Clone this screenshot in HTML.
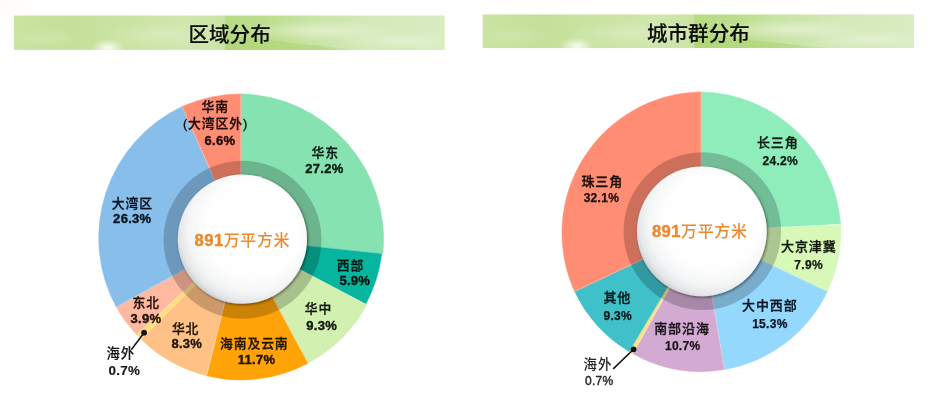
<!DOCTYPE html>
<html lang="zh-CN">
<head>
<meta charset="utf-8">
<title>区域分布 / 城市群分布</title>
<style>
html,body{margin:0;padding:0;background:#fff;}
body{width:930px;height:419px;overflow:hidden;position:relative;font-family:"Liberation Sans","Noto Sans CJK SC",sans-serif;}
svg{position:absolute;left:0;top:0;display:block;}
.tint{position:absolute;left:0;top:0;width:40px;height:20px;background:radial-gradient(ellipse 40px 20px at 0 0,#fffbf6,rgba(255,253,250,0) 100%);}
text{font-family:"Liberation Sans","Noto Sans CJK SC",sans-serif;text-anchor:middle;fill:#161616;}
.ttl{font-size:20.5px;font-weight:500;fill:#0d0d0d;stroke:#0d0d0d;stroke-width:0.15px;letter-spacing:0.1px;}
.c{font-size:12.8px;font-weight:500;letter-spacing:0.9px;stroke:#161616;stroke-width:0.3px;}
.n{font-size:13px;font-weight:700;letter-spacing:0.3px;stroke:#161616;stroke-width:0.38px;}
.c2{font-size:13px;font-weight:500;letter-spacing:0.9px;stroke:#161616;stroke-width:0.3px;}
.n2{font-size:12px;font-weight:700;letter-spacing:0.3px;fill:#1c1c1c;stroke:#1c1c1c;stroke-width:0.25px;}
.ctr{font-size:16px;font-weight:500;fill:#ED882D;letter-spacing:0.6px;}
.ctr .d{font-size:16.6px;font-weight:700;letter-spacing:0.5px;stroke:#ED882D;stroke-width:0.4px;}
</style>
</head>
<body>
<div class="tint"></div>
<svg width="930" height="419" viewBox="0 0 930 419">
<defs>
<linearGradient id="bg" x1="0" y1="0" x2="1" y2="0">
<stop offset="0" stop-color="#c9e3a0"/><stop offset="0.14" stop-color="#c6e09b"/><stop offset="0.26" stop-color="#cae3a2"/><stop offset="0.40" stop-color="#d0e6ad"/><stop offset="0.487" stop-color="#cbe4a5"/><stop offset="0.493" stop-color="#b8db85"/><stop offset="0.58" stop-color="#bddd8d"/><stop offset="0.68" stop-color="#c8e3a2"/><stop offset="0.80" stop-color="#d3e8b7"/><stop offset="1" stop-color="#d9ecc2"/>
</linearGradient>
<radialGradient id="sp1"><stop offset="0" stop-color="#fafdf4" stop-opacity="0.95"/><stop offset="1" stop-color="#fafdf4" stop-opacity="0"/></radialGradient>
<radialGradient id="sp2"><stop offset="0" stop-color="#deeec6" stop-opacity="0.6"/><stop offset="1" stop-color="#deeec6" stop-opacity="0"/></radialGradient>
<radialGradient id="sp3"><stop offset="0" stop-color="#e6f2d4" stop-opacity="0.8"/><stop offset="1" stop-color="#e6f2d4" stop-opacity="0"/></radialGradient>
<linearGradient id="stk" x1="0" y1="0" x2="1" y2="0"><stop offset="0" stop-color="#b2d779" stop-opacity="0.95"/><stop offset="0.7" stop-color="#b6d980" stop-opacity="0.9"/><stop offset="1" stop-color="#c4e09a" stop-opacity="0.5"/></linearGradient>
<clipPath id="bc"><rect x="0" y="0" width="431" height="34"/></clipPath>
<g id="banner">
<rect x="0" y="0" width="431" height="34" fill="url(#bg)"/>
<g clip-path="url(#bc)">
<ellipse cx="94" cy="32" rx="17" ry="9" fill="url(#sp1)"/>
<ellipse cx="150" cy="19" rx="65" ry="13" fill="url(#sp2)"/>
<ellipse cx="30" cy="22" rx="40" ry="9" fill="url(#sp2)" opacity="0.6"/>
<ellipse cx="310" cy="15" rx="80" ry="10" fill="url(#sp3)"/>
<ellipse cx="388" cy="25" rx="60" ry="9" fill="url(#sp3)"/>
<path d="M212,19 C250,24 300,30 346,34 L212,34 Z" fill="url(#stk)"/>
</g>
</g>
<radialGradient id="wg" cx="58%" cy="42%" r="62%">
<stop offset="0" stop-color="#ffffff"/><stop offset="0.6" stop-color="#fefefe"/><stop offset="0.8" stop-color="#f4f5f6"/><stop offset="0.92" stop-color="#e4e6e8"/><stop offset="1" stop-color="#c9ccd0"/>
</radialGradient>
<filter id="sh" x="-30%" y="-30%" width="160%" height="160%">
<feGaussianBlur in="SourceAlpha" stdDeviation="1.5"/><feOffset dx="0.9" dy="1.1" result="o"/>
<feComponentTransfer><feFuncA type="linear" slope="0.55"/></feComponentTransfer>
<feMerge><feMergeNode/><feMergeNode in="SourceGraphic"/></feMerge>
</filter>
</defs>
<use href="#banner" transform="translate(13.9,15.5) scale(0.99977,1.0118)"/>
<use href="#banner" transform="translate(482.7,14.4) scale(1.0007,0.99)"/>
<text x="229.6" y="41.6" class="ttl">区域分布</text>
<text x="698.4" y="41" class="ttl">城市群分布</text>
<g>
<path d="M240.8,238.5L240.90,93.95A145.5,145.5 0 0 1 382.92,253.63Z" fill="#87E2B1" stroke="#87E2B1" stroke-width="0.5" stroke-linejoin="round"/>
<path d="M240.8,238.5L381.73,253.49A141.8,141.8 0 0 1 365.75,304.18Z" fill="#05B59D" stroke="#05B59D" stroke-width="0.5" stroke-linejoin="round"/>
<path d="M240.8,238.5L366.81,304.74A144,144 0 0 1 308.03,363.21Z" fill="#D2F1B0" stroke="#D2F1B0" stroke-width="0.5" stroke-linejoin="round"/>
<path d="M240.8,238.5L308.03,363.21A143.0,143.0 0 0 1 206.55,375.76Z" fill="#FFA308" stroke="#FFA308" stroke-width="0.5" stroke-linejoin="round"/>
<path d="M240.8,238.5L206.55,375.76A143.0,143.0 0 0 1 141.03,339.29Z" fill="#FFC185" stroke="#FFC185" stroke-width="0.5" stroke-linejoin="round"/>
<path d="M240.8,238.5L141.03,339.29A143.0,143.0 0 0 1 136.49,334.66Z" fill="#FFE080" stroke="#FFE080" stroke-width="0.5" stroke-linejoin="round"/>
<path d="M240.8,238.5L136.49,334.66A143.0,143.0 0 0 1 116.19,306.93Z" fill="#FFB9A0" stroke="#FFB9A0" stroke-width="0.5" stroke-linejoin="round"/>
<path d="M240.8,238.5L116.19,306.93A145,145 0 0 1 182.05,106.62Z" fill="#88BEEA" stroke="#88BEEA" stroke-width="0.5" stroke-linejoin="round"/>
<path d="M240.8,238.5L182.05,106.62A143.0,143.0 0 0 1 240.90,93.95Z" fill="#FF8D73" stroke="#FF8D73" stroke-width="0.5" stroke-linejoin="round"/>
<line x1="240.8" y1="238.5" x2="240.90" y2="94.45" stroke="#fff" stroke-opacity="0.35" stroke-width="0.9"/>
<line x1="240.8" y1="238.5" x2="382.43" y2="253.58" stroke="#fff" stroke-opacity="0.35" stroke-width="0.9"/>
<line x1="240.8" y1="238.5" x2="366.37" y2="304.51" stroke="#fff" stroke-opacity="0.35" stroke-width="0.9"/>
<line x1="240.8" y1="238.5" x2="307.80" y2="362.77" stroke="#fff" stroke-opacity="0.35" stroke-width="0.9"/>
<line x1="240.8" y1="238.5" x2="206.67" y2="375.28" stroke="#fff" stroke-opacity="0.35" stroke-width="0.9"/>
<line x1="240.8" y1="238.5" x2="141.38" y2="338.94" stroke="#fff" stroke-opacity="0.35" stroke-width="0.9"/>
<line x1="240.8" y1="238.5" x2="136.85" y2="334.32" stroke="#fff" stroke-opacity="0.35" stroke-width="0.9"/>
<line x1="240.8" y1="238.5" x2="116.63" y2="306.69" stroke="#fff" stroke-opacity="0.35" stroke-width="0.9"/>
<line x1="240.8" y1="238.5" x2="182.26" y2="107.08" stroke="#fff" stroke-opacity="0.35" stroke-width="0.9"/>
<circle cx="242.5" cy="239.8" r="79.0" fill="#000" fill-opacity="0.2"/>
<circle cx="242.35" cy="239.2" r="64.6" fill="url(#wg)" filter="url(#sh)"/>
</g>
<g>
<path d="M701,231.7L701.00,91.90A142.6,142.6 0 0 1 840.60,224.26Z" fill="#8FEDBB" stroke="#8FEDBB" stroke-width="0.5" stroke-linejoin="round"/>
<path d="M701,231.7L840.60,224.26A139.8,139.8 0 0 1 827.36,291.51Z" fill="#D8F8B8" stroke="#D8F8B8" stroke-width="0.5" stroke-linejoin="round"/>
<path d="M701,231.7L827.36,291.51A139.8,139.8 0 0 1 724.55,369.50Z" fill="#95D8FD" stroke="#95D8FD" stroke-width="0.5" stroke-linejoin="round"/>
<path d="M701,231.7L724.55,369.50A139.8,139.8 0 0 1 632.80,353.73Z" fill="#D3ABD2" stroke="#D3ABD2" stroke-width="0.5" stroke-linejoin="round"/>
<path d="M701,231.7L632.80,353.73A139.8,139.8 0 0 1 629.21,351.66Z" fill="#FFE080" stroke="#FFE080" stroke-width="0.5" stroke-linejoin="round"/>
<path d="M701,231.7L629.21,351.66A139.8,139.8 0 0 1 574.64,291.51Z" fill="#40C0C8" stroke="#40C0C8" stroke-width="0.5" stroke-linejoin="round"/>
<path d="M701,231.7L574.64,291.51A141.2,141.2 0 0 1 701.00,91.90Z" fill="#FF8D73" stroke="#FF8D73" stroke-width="0.5" stroke-linejoin="round"/>
<line x1="701" y1="231.7" x2="701.00" y2="92.40" stroke="#fff" stroke-opacity="0.35" stroke-width="0.9"/>
<line x1="701" y1="231.7" x2="840.10" y2="224.29" stroke="#fff" stroke-opacity="0.35" stroke-width="0.9"/>
<line x1="701" y1="231.7" x2="826.91" y2="291.30" stroke="#fff" stroke-opacity="0.35" stroke-width="0.9"/>
<line x1="701" y1="231.7" x2="724.47" y2="369.01" stroke="#fff" stroke-opacity="0.35" stroke-width="0.9"/>
<line x1="701" y1="231.7" x2="633.04" y2="353.30" stroke="#fff" stroke-opacity="0.35" stroke-width="0.9"/>
<line x1="701" y1="231.7" x2="629.46" y2="351.23" stroke="#fff" stroke-opacity="0.35" stroke-width="0.9"/>
<line x1="701" y1="231.7" x2="575.09" y2="291.30" stroke="#fff" stroke-opacity="0.35" stroke-width="0.9"/>
<circle cx="702.3" cy="231.1" r="78.8" fill="#000" fill-opacity="0.2"/>
<circle cx="701.8" cy="231.3" r="64.9" fill="url(#wg)" filter="url(#sh)"/>
</g>
<line x1="144.1" y1="332.7" x2="131.3" y2="349.8" stroke="#111" stroke-width="1.5"/>
<circle cx="144.1" cy="332.7" r="2.9" fill="#111"/>
<line x1="633.6" y1="349.3" x2="613.2" y2="368.9" stroke="#111" stroke-width="1.5"/>
<circle cx="633.6" cy="349.3" r="2.9" fill="#111"/>
<text x="215.3" y="111" class="c" style="fill:#1b0b07;stroke:#1b0b07;">华南</text>
<text x="215.5" y="128" class="c" style="fill:#1b0b07;stroke:#1b0b07;">(大湾区外)</text>
<text x="220" y="144.7" class="n" style="fill:#1b0b07;stroke:#1b0b07;">6.6%</text>
<text x="325.3" y="157" class="c" style="fill:#071911;stroke:#071911;">华东</text>
<text x="324.5" y="173.3" class="n" style="fill:#071911;stroke:#071911;">27.2%</text>
<text x="132.3" y="208" class="c" style="fill:#081320;stroke:#081320;">大湾区</text>
<text x="132.3" y="223" class="n" style="fill:#081320;stroke:#081320;">26.3%</text>
<text x="350.5" y="269.7" class="c" style="fill:#021310;stroke:#021310;">西部</text>
<text x="354.8" y="285.4" class="n" style="fill:#021310;stroke:#021310;">5.9%</text>
<text x="318.5" y="312.8" class="c" style="fill:#11180c;stroke:#11180c;">华中</text>
<text x="321.7" y="329.6" class="n" style="fill:#11180c;stroke:#11180c;">9.3%</text>
<text x="254.3" y="347.8" class="c" style="fill:#201400;stroke:#201400;">海南及云南</text>
<text x="256.5" y="364.2" class="n" style="fill:#201400;stroke:#201400;">11.7%</text>
<text x="185.6" y="332.8" class="c" style="fill:#211506;stroke:#211506;">华北</text>
<text x="186.8" y="348" class="n" style="fill:#211506;stroke:#211506;">8.3%</text>
<text x="146.3" y="306.6" class="c" style="fill:#221009;stroke:#221009;">东北</text>
<text x="146" y="323" class="n" style="fill:#221009;stroke:#221009;">3.9%</text>
<text x="120.8" y="358.3" class="c" style="fill:#161616;stroke:#161616;font-size:13.4px;stroke-width:0.15px">海外</text>
<text x="124.3" y="375.2" class="n" style="fill:#161616;stroke:#161616;font-size:13.4px;stroke-width:0.15px">0.7%</text>
<text x="777.8" y="147" class="c2" style="fill:#071911;stroke:#071911;">长三角</text>
<text x="780.3" y="165.3" class="n2" style="fill:#071911;stroke:#071911;">24.2%</text>
<text x="602.3" y="186.4" class="c2" style="fill:#1b0b07;stroke:#1b0b07;">珠三角</text>
<text x="601.4" y="202.2" class="n2" style="fill:#1b0b07;stroke:#1b0b07;">32.1%</text>
<text x="808.8" y="250.8" class="c2" style="fill:#11180c;stroke:#11180c;">大京津冀</text>
<text x="808.6" y="268.8" class="n2" style="fill:#11180c;stroke:#11180c;">7.9%</text>
<text x="769.8" y="310" class="c2" style="fill:#081320;stroke:#081320;">大中西部</text>
<text x="769.9" y="328.3" class="n2" style="fill:#081320;stroke:#081320;">15.3%</text>
<text x="682" y="333.4" class="c2" style="fill:#1b121b;stroke:#1b121b;">南部沿海</text>
<text x="682.7" y="350.2" class="n2" style="fill:#1b121b;stroke:#1b121b;">10.7%</text>
<text x="617.3" y="301.5" class="c2" style="fill:#031616;stroke:#031616;">其他</text>
<text x="617.8" y="319.5" class="n2" style="fill:#031616;stroke:#031616;">9.3%</text>
<text x="598" y="368.8" class="c2" style="fill:#262626;stroke:#262626;font-size:13.5px;stroke-width:0">海外</text>
<text x="599.3" y="385.3" class="n2" style="fill:#262626;stroke:#262626;font-weight:400;stroke-width:0.42px;letter-spacing:0.25px">0.7%</text>
<text x="242.3" y="245.5" class="ctr"><tspan class="d">891</tspan>万平方米</text>
<text x="699.7" y="237.4" class="ctr"><tspan class="d">891</tspan>万平方米</text>
</svg>
</body>
</html>
